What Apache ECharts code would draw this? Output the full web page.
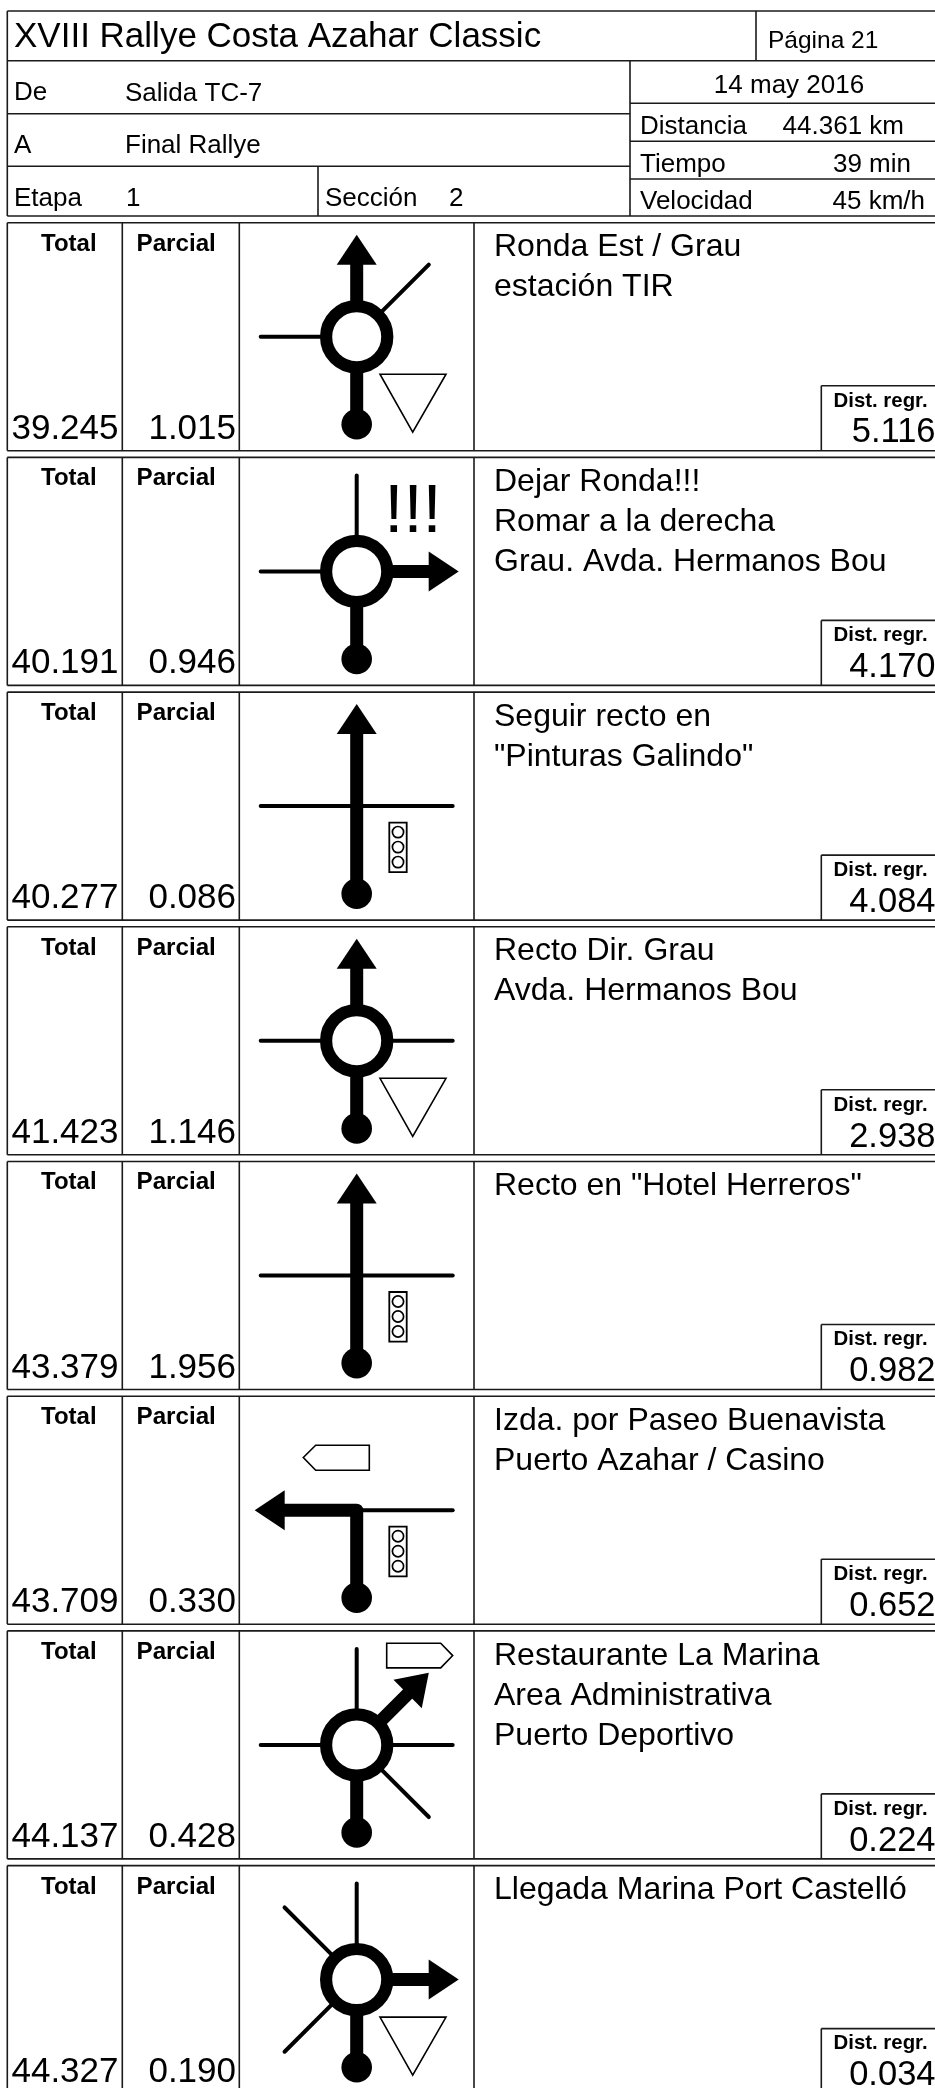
<!DOCTYPE html>
<html><head><meta charset="utf-8">
<style>html,body{margin:0;padding:0;background:#fff}#c{width:935px;height:2088px}</style>
<script src="https://cdn.jsdelivr.net/npm/echarts@6/dist/echarts.min.js"></script>
</head><body><div id="c"></div>
<script>
// ---------- data ----------
const rallyTitle = 'XVIII Rallye Costa Azahar Classic';
const pageLabel = 'Página 21';
const dateLabel = '14 may 2016';
const fromLabel = 'De', fromValue = 'Salida TC-7';
const toLabel = 'A', toValue = 'Final Rallye';
const stageLabel = 'Etapa', stageValue = '1';
const sectionLabel = 'Sección', sectionValue = '2';
const distanceLabel = 'Distancia', distanceValue = '44.361 km';
const timeLabel = 'Tiempo', timeValue = '39 min';
const speedLabel = 'Velocidad', speedValue = '45 km/h';

const totalHeader = 'Total', partialHeader = 'Parcial', remainingHeader = 'Dist. regr.';
const totals    = [39.245, 40.191, 40.277, 41.423, 43.379, 43.709, 44.137, 44.327];
const partials  = [1.015, 0.946, 0.086, 1.146, 1.956, 0.330, 0.428, 0.190];
const remaining = [5.116, 4.170, 4.084, 2.938, 0.982, 0.652, 0.224, 0.034];
const notes = [
  ['Ronda Est / Grau', 'estación TIR'],
  ['Dejar Ronda!!!', 'Romar a la derecha', 'Grau. Avda. Hermanos Bou'],
  ['Seguir recto en', '"Pinturas Galindo"'],
  ['Recto Dir. Grau', 'Avda. Hermanos Bou'],
  ['Recto en "Hotel Herreros"'],
  ['Izda. por Paseo Buenavista', 'Puerto Azahar / Casino'],
  ['Restaurante La Marina', 'Area Administrativa', 'Puerto Deportivo'],
  ['Llegada Marina Port Castelló']
];
const junctions = ['round', 'round', 'cross', 'round', 'cross', 'cross', 'round', 'round'];
const exits     = ['N', 'E', 'N', 'N', 'N', 'W', 'NE', 'E'];
const sideRoads = [['W','NE'], ['N','W'], ['W','E'], ['W','E'], ['W','E'], ['E'], ['N','W','E','SE'], ['N','NW','SW']];
const signs     = [['yield'], ['alert'], ['light'], ['yield'], ['light'], ['light','panelLeft'], ['panelRight'], ['yield']];

// ---------- layout ----------
const FONT = '"Liberation Sans", Helvetica, Arial, sans-serif';
const INK = '#000', RULE = '#1a1a1a', RULE_W = 1.6, W = 935;
const ROW_TOP = 222.7, ROW_PITCH = 234.7, ROW_H = 228, CX = 356.7, CY_REL = 114;
const COL = [7.3, 122.3, 239.3, 474];
const DIR = {N:[0,-1],E:[1,0],W:[-1,0],S:[0,1],NE:[.7071,-.7071],SE:[.7071,.7071],NW:[-.7071,-.7071],SW:[-.7071,.7071]};

function makeKit(api){
  const p = (x,y)=>api.coord([x,y]);
  const kit = {
    p,
    line(x1,y1,x2,y2,w,color,cap){
      const a=p(x1,y1), b=p(x2,y2);
      return {type:'line',shape:{x1:a[0],y1:a[1],x2:b[0],y2:b[1]},style:{stroke:color||RULE,lineWidth:w||RULE_W,lineCap:cap||'butt',fill:null}};
    },
    poly(points,fill,stroke,w){
      return {type:'polygon',shape:{points:points.map(q=>p(q[0],q[1]))},style:{fill:fill,stroke:stroke||null,lineWidth:w||0,lineJoin:'miter'}};
    },
    pline(points,w){
      return {type:'polyline',shape:{points:points.map(q=>p(q[0],q[1]))},style:{fill:null,stroke:INK,lineWidth:w,lineJoin:'round',lineCap:'butt'}};
    },
    circle(x,y,r,fill,stroke,w){
      const a=p(x,y);
      return {type:'circle',shape:{cx:a[0],cy:a[1],r:r},style:{fill:fill,stroke:stroke||null,lineWidth:w||0}};
    },
    rect(x,y,w,h,sw){
      const a=p(x,y);
      return {type:'rect',shape:{x:a[0],y:a[1],width:w,height:h},style:{fill:'#fff',stroke:INK,lineWidth:sw}};
    },
    text(x,baseline,str,size,align,weight){
      const a=p(x,baseline-0.235*size);
      return {type:'text',style:{x:a[0],y:a[1],text:str,fill:INK,align:align||'left',verticalAlign:'middle',
        font:(weight||'normal')+' '+size+'px '+FONT}};
    }
  };
  return kit;
}

function renderHeader(params, api){
  const k = makeKit(api), c = [];
  const yTop=11, y1=60.7, yL1=113.7, yL2=166.3, yB=216, xL=7.3, xM=630, xP=756, xS=318, xR=W+5;
  [[xL,yTop,xR,yTop],[xL,y1,xR,y1],[xL,yL1,xM,yL1],[xL,yL2,xM,yL2],[xL,yB,xR,yB],
   [xM,103.3,xR,103.3],[xM,141.3,xR,141.3],[xM,179,xR,179],
   [xL,yTop,xL,yB],[xP,yTop,xP,y1],[xM,y1,xM,yB],[xS,yL2,xS,yB]
  ].forEach(s=>c.push(k.line(s[0],s[1],s[2],s[3])));
  c.push(k.text(14,46,rallyTitle,35));
  c.push(k.text(768,46.7,pageLabel,24.5));
  c.push(k.text(14,99.3,fromLabel,26));
  c.push(k.text(125,99.8,fromValue,26));
  c.push(k.text(14,151.7,toLabel,26));
  c.push(k.text(125,151.7,toValue,26));
  c.push(k.text(14,205,stageLabel,26));
  c.push(k.text(126,205,stageValue,26));
  c.push(k.text(325,204.5,sectionLabel,26));
  c.push(k.text(449,204.5,sectionValue,26));
  c.push(k.text(789,91.7,dateLabel,26,'center'));
  c.push(k.text(640,133.3,distanceLabel,26));
  c.push(k.text(904,133.3,distanceValue,26,'right'));
  c.push(k.text(640,170.7,timeLabel,26));
  c.push(k.text(911,170.7,timeValue,26,'right'));
  c.push(k.text(640,208.3,speedLabel,26));
  c.push(k.text(925,208.3,speedValue,26,'right'));
  return {type:'group',children:c};
}

function headAt(k,cx,cy,d){
  const ux=d[0],uy=d[1],nx=-uy,ny=ux, b=72, t=102, h=20;
  return k.poly([[cx+ux*t,cy+uy*t],[cx+ux*b+nx*h,cy+uy*b+ny*h],[cx+ux*b-nx*h,cy+uy*b-ny*h]],INK);
}

function renderRow(params, api){
  const i = api.value(0), k = makeKit(api), c = [];
  const top = ROW_TOP + ROW_PITCH*i, bot = top+ROW_H, xR = W+5;
  // cell frame
  c.push(k.line(COL[0],top,xR,top), k.line(COL[0],bot,xR,bot));
  COL.forEach(x=>c.push(k.line(x,top,x,bot)));
  // dist. regr. box
  c.push(k.line(821.3,top+163,xR,top+163), k.line(821.3,top+163,821.3,bot));
  // headers + values
  c.push(k.text(41,top+27,totalHeader,24,'left','bold'));
  c.push(k.text(136.5,top+27,partialHeader,24.2,'left','bold'));
  c.push(k.text(118.5,top+214.6,api.value(1).toFixed(3),35,'right'));
  c.push(k.text(236,top+214.6,api.value(2).toFixed(3),35,'right'));
  c.push(k.text(833.5,top+183,remainingHeader,20.4,'left','bold'));
  c.push(k.text(935.5,top+218.3,api.value(3).toFixed(3),34.5,'right'));
  // instruction lines
  notes[i].forEach((t,n)=>c.push(k.text(494,top+32.3+40*n,t,32)));
  // junction pictogram
  const cy = top+CY_REL, dir = DIR[exits[i]];
  sideRoads[i].forEach(s=>{
    const d=DIR[s], len=(d[0]&&d[1])?102:96;
    c.push(k.line(CX,cy,CX+d[0]*len,cy+d[1]*len,4,INK,'round'));
  });
  c.push(k.pline([[CX,cy+88],[CX,cy],[CX+dir[0]*73,cy+dir[1]*73]],13));
  c.push(headAt(k,CX,cy,dir));
  c.push(k.circle(CX,cy+87.6,15.3,INK));
  if(junctions[i]==='round') c.push(k.circle(CX,cy,30.6,'#fff',INK,12.2));
  // road-side marks
  signs[i].forEach(s=>{
    if(s==='yield'){
      c.push(k.poly([[CX+23.3,cy+37.5],[CX+89.3,cy+37.5],[CX+56,cy+95.5]],'#fff',INK,1.6));
    } else if(s==='light'){
      c.push(k.rect(CX+32.6,cy+16.5,17.4,49.6,1.8));
      [26,41,56].forEach(o=>c.push(k.circle(CX+41.3,cy+o,5.6,'#fff',INK,1.7)));
    } else if(s==='alert'){
      c.push(k.text(CX+56.3,top+71.5,'!!!',69,'center'));
    } else if(s==='panelLeft'){
      c.push(k.poly([[CX-53.4,cy-52.7],[CX-41,cy-65],[CX+12.6,cy-65],[CX+12.6,cy-40],[CX-41,cy-40]],'#fff',INK,1.6));
    } else if(s==='panelRight'){
      c.push(k.poly([[CX+30,cy-101.7],[CX+84,cy-101.7],[CX+96,cy-89.3],[CX+84,cy-77],[CX+30,cy-77]],'#fff',INK,1.6));
    }
  });
  return {type:'group',children:c};
}

const chart = echarts.init(document.getElementById('c'),null,{renderer:'canvas'});
chart.setOption({
  animation:false,
  backgroundColor:'#fff',
  grid:{left:0,right:0,top:0,bottom:0},
  xAxis:{type:'value',min:0,max:W,show:false},
  yAxis:{type:'value',min:0,max:2088,inverse:true,show:false},
  series:[
    {type:'custom',name:'Cabecera',silent:true,clip:false,coordinateSystem:'cartesian2d',renderItem:renderHeader,data:[[0]],encode:{x:0}},
    {type:'custom',name:'Tramos',silent:true,clip:false,coordinateSystem:'cartesian2d',renderItem:renderRow,
     data:totals.map((t,i)=>[i,t,partials[i],remaining[i]]),encode:{x:0}}
  ]
});
</script></body></html>
